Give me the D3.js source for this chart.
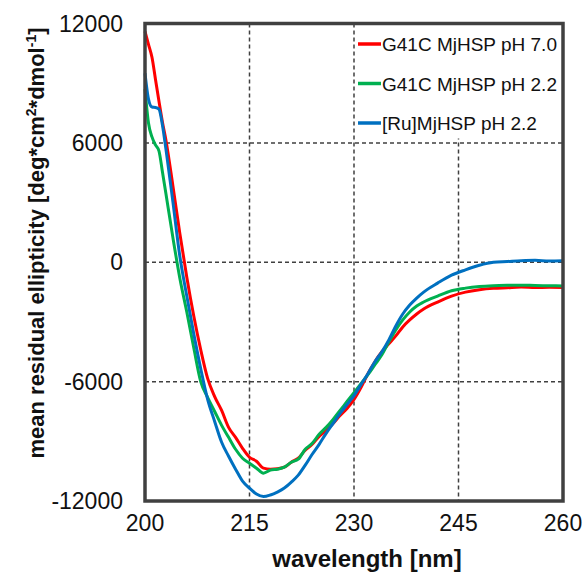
<!DOCTYPE html>
<html>
<head>
<meta charset="utf-8">
<script src="https://cdn.jsdelivr.net/npm/d3@7"></script>
<style>
  html, body { margin: 0; padding: 0; background: #fff; }
  svg { display: block; }
</style>
</head>
<body>
<div id="chart"></div>
<script>
// wavelength grid (nm)
const wavelengths = [200, 200.5, 201, 201.5, 202, 202.5, 203, 204, 205, 206, 207, 208, 209, 210,
  211, 212, 213, 214, 215, 216, 217, 218, 219, 220, 221, 222, 223, 224, 225, 226, 227, 228, 229,
  230, 231, 232, 233, 234, 235, 236, 237, 238, 239, 240, 242, 244, 246, 248, 250, 252, 254, 256,
  258, 260];

const g41cPh70 = [11600, 10950, 10300, 9200, 8100, 7050, 6150, 3850, 1450, -750, -2700, -4400,
  -5850, -6750, -7450, -8300, -8800, -9350, -9800, -10000, -10350, -10400, -10380, -10300, -10050,
  -9850, -9450, -9150, -8750, -8450, -8100, -7700, -7350, -6900, -6300, -5600, -5000, -4500, -4100,
  -3700, -3250, -2900, -2600, -2350, -2000, -1700, -1500, -1380, -1310, -1280, -1250, -1270, -1260,
  -1270];

const g41cPh22 = [8700, 7000, 6300, 5900, 5600, 4550, 3450, 1250, -800, -2500, -4300, -6000,
  -6800, -7500, -8200, -8800, -9400, -9850, -10100, -10350, -10600, -10450, -10400, -10300, -10050,
  -9900, -9400, -9100, -8650, -8300, -7900, -7450, -7000, -6550, -6100, -5650, -5150, -4650, -4000,
  -3400, -2900, -2500, -2200, -2000, -1700, -1430, -1300, -1220, -1180, -1160, -1150, -1170, -1180,
  -1190];

const ruPh22 = [9500, 8200, 7800, 7780, 7700, 6900, 5700, 3050, 300, -1700, -3600, -5350,
  -6900, -8000, -9050, -9750, -10400, -11000, -11350, -11650, -11780, -11700, -11550, -11350, -11050,
  -10700, -10200, -9650, -9150, -8600, -8100, -7600, -7150, -6700, -6150, -5600, -5000, -4500, -3900,
  -3200, -2600, -2150, -1800, -1500, -1050, -650, -380, -150, 0, 40, 80, 100, 60, 70];

const seriesNames = ['G41C MjHSP pH 7.0', 'G41C MjHSP pH 2.2', '[Ru]MjHSP pH 2.2'];
const seriesColors = ['#ff0000', '#00b050', '#0070c0'];
const xTicks = [200, 215, 230, 245, 260];
const yTicks = [12000, 6000, 0, -6000, -12000];

const width = 587, height = 573;
const margin = { top: 23.5, right: 24, bottom: 72, left: 145 };

const svg = d3.select('#chart')
  .append('svg')
  .attr('width', width)
  .attr('height', height)
  .attr('font-family', 'Liberation Sans, Arial, sans-serif');

const x = d3.scaleLinear().domain([200, 260]).range([margin.left, width - margin.right]);
const y = d3.scaleLinear().domain([-12000, 12000]).range([height - margin.bottom, margin.top]);

// dashed grid
const grid = svg.append('g')
  .attr('stroke', '#404040')
  .attr('stroke-width', 1.5)
  .attr('stroke-dasharray', '4,3');

grid.selectAll('.vgrid')
  .data(xTicks.slice(1, -1))
  .join('line')
  .attr('x1', d => x(d)).attr('x2', d => x(d))
  .attr('y1', y(12000)).attr('y2', y(-12000));

grid.selectAll('.hgrid')
  .data(yTicks.slice(1, -1))
  .join('line')
  .attr('x1', x(200)).attr('x2', x(260))
  .attr('y1', d => y(d)).attr('y2', d => y(d));

// curves
const allSeries = [g41cPh70, g41cPh22, ruPh22];
const line = d3.line()
  .x(d => x(d[0]))
  .y(d => y(d[1]))
  .curve(d3.curveMonotoneX);

allSeries.forEach((vals, i) => {
  const pts = wavelengths.map((w, j) => [w, vals[j]]);
  svg.append('path')
    .attr('d', line(pts))
    .attr('fill', 'none')
    .attr('stroke', seriesColors[i])
    .attr('stroke-width', 3)
    .attr('stroke-linejoin', 'round');
});

// legend (white box covers grid)
svg.append('rect')
  .attr('x', x(230) + 2)
  .attr('y', y(12000) + 1)
  .attr('width', x(260) - x(230) - 4)
  .attr('height', 114)
  .attr('fill', '#fff');

const legend = svg.append('g');
seriesNames.forEach((name, i) => {
  const ly = 44 + i * 39.5;
  legend.append('line')
    .attr('x1', 358).attr('x2', 381)
    .attr('y1', ly).attr('y2', ly)
    .attr('stroke', seriesColors[i])
    .attr('stroke-width', 3.5);
  legend.append('text')
    .attr('x', 382)
    .attr('y', ly + 7)
    .attr('font-size', 19)
    .attr('fill', '#111')
    .text(name);
});

// frame
svg.append('rect')
  .attr('x', x(200)).attr('y', y(12000))
  .attr('width', x(260) - x(200))
  .attr('height', y(-12000) - y(12000))
  .attr('fill', 'none')
  .attr('stroke', '#404040')
  .attr('stroke-width', 3.5);

// tick labels
svg.append('g')
  .selectAll('text')
  .data(xTicks)
  .join('text')
  .attr('x', d => x(d))
  .attr('y', 531)
  .attr('text-anchor', 'middle')
  .attr('font-size', 23)
  .attr('fill', '#111')
  .text(d => d);

svg.append('g')
  .selectAll('text')
  .data(yTicks)
  .join('text')
  .attr('x', 123)
  .attr('y', d => y(d) + 8)
  .attr('text-anchor', 'end')
  .attr('font-size', 23)
  .attr('fill', '#111')
  .text(d => d);

// axis titles
svg.append('text')
  .attr('x', 367)
  .attr('y', 567)
  .attr('text-anchor', 'middle')
  .attr('font-size', 24)
  .attr('font-weight', 'bold')
  .attr('fill', '#111')
  .text('wavelength [nm]');

const yTitle = svg.append('text')
  .attr('transform', 'translate(43.5,243) rotate(-90)')
  .attr('text-anchor', 'middle')
  .attr('font-size', 22)
  .attr('font-weight', 'bold')
  .attr('fill', '#111');
yTitle.append('tspan').text('mean residual ellipticity [deg*cm');
yTitle.append('tspan').attr('font-size', 14).attr('dy', -8).text('2');
yTitle.append('tspan').attr('dy', 8).text('*dmol');
yTitle.append('tspan').attr('font-size', 14).attr('dy', -8).text('-1');
yTitle.append('tspan').attr('dy', 8).text(']');
</script>
</body>
</html>
